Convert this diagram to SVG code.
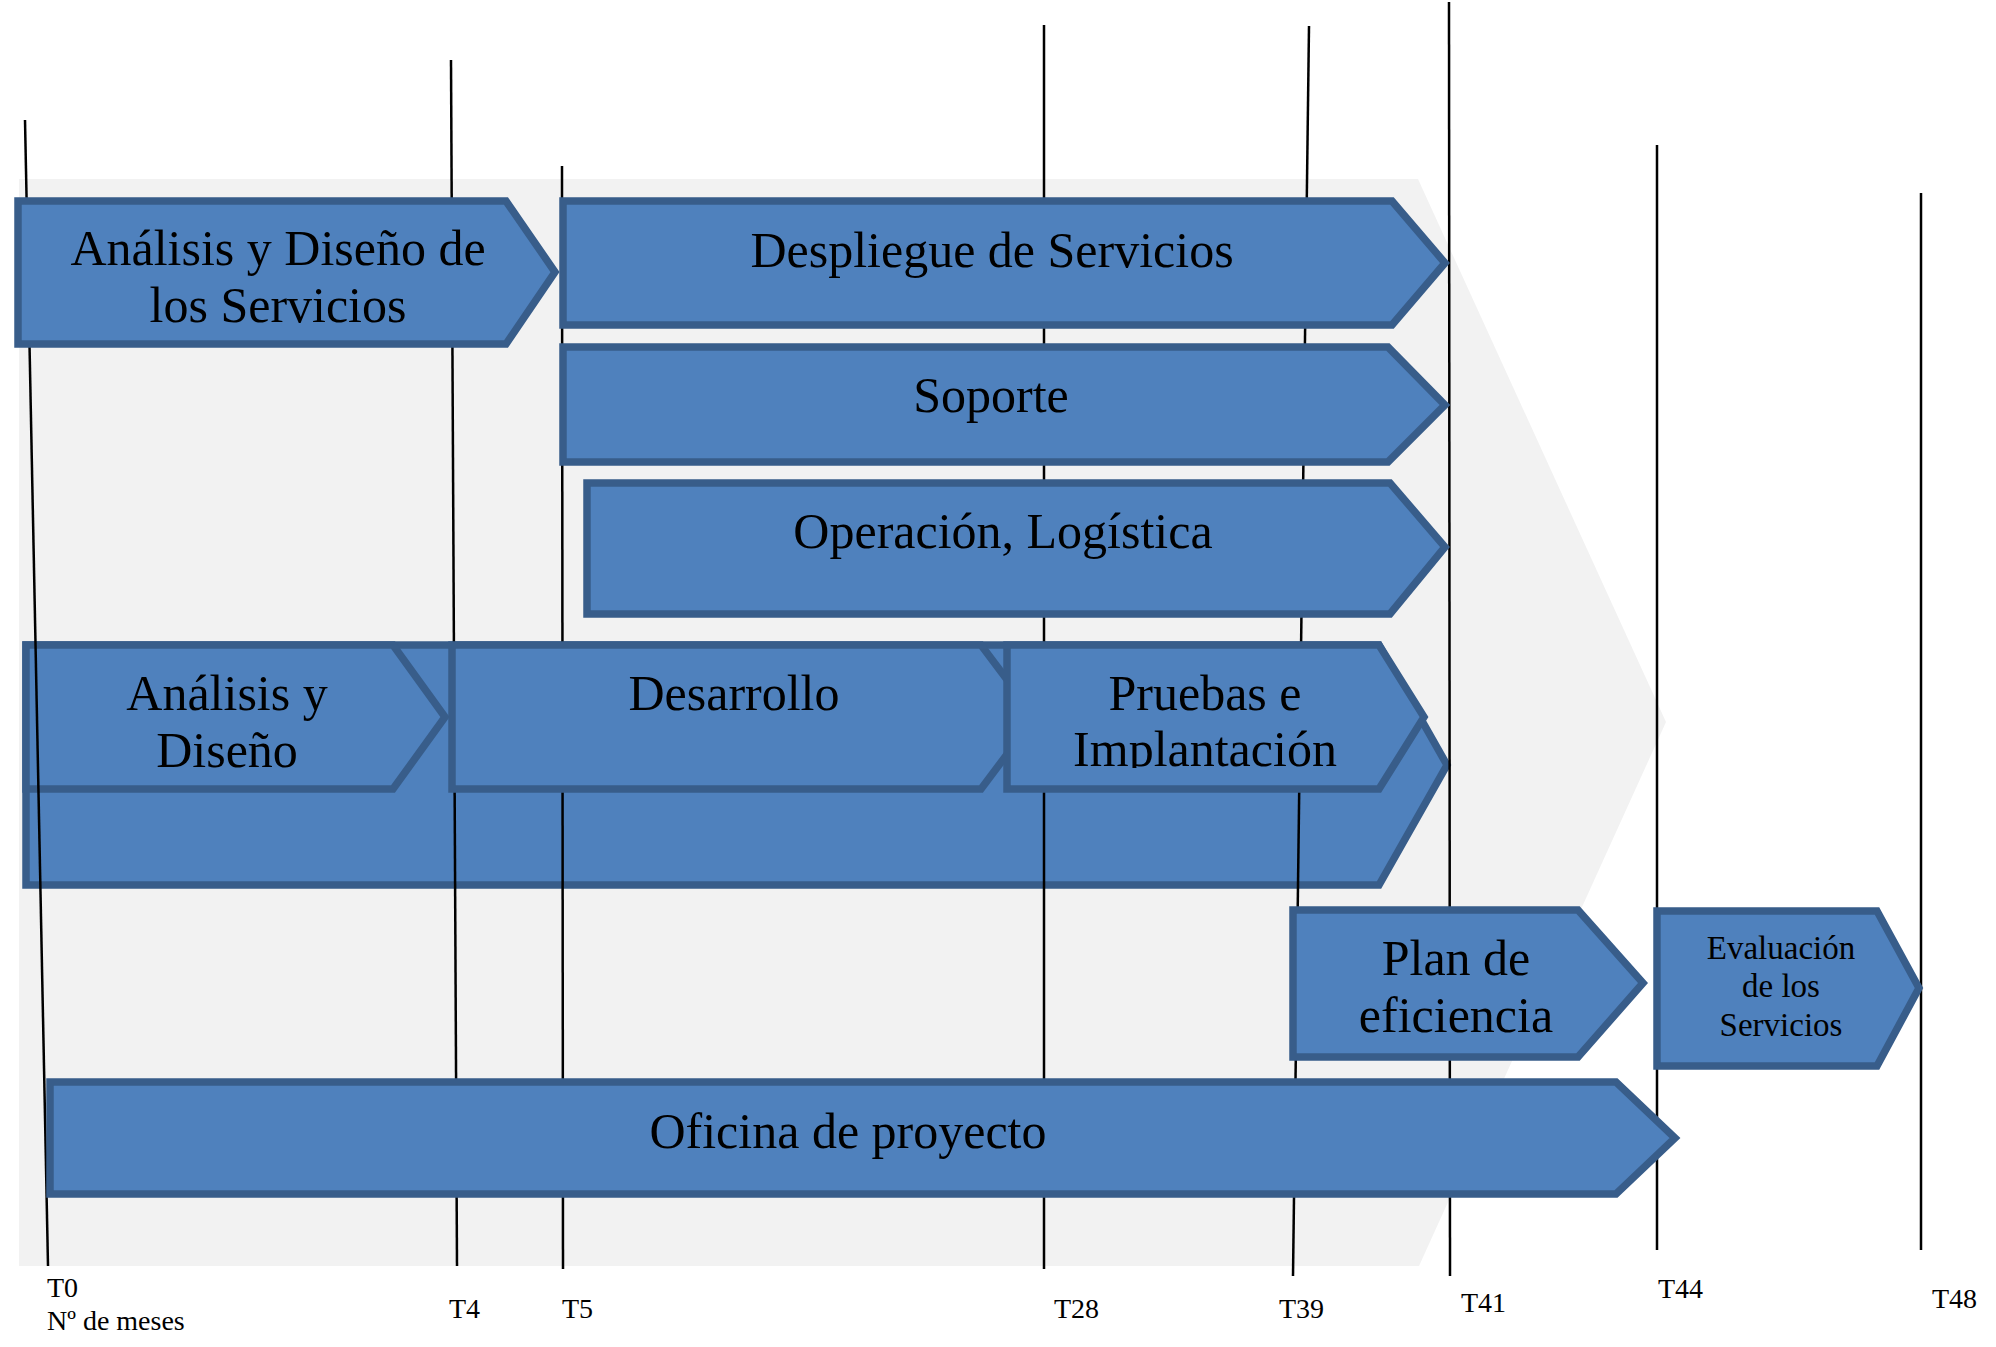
<svg xmlns="http://www.w3.org/2000/svg" width="1996" height="1347" viewBox="0 0 1996 1347">
<style>
.arrow{fill:#4F81BD;stroke:#385D8A;stroke-width:7.5;stroke-linejoin:miter}
.lbl{font-family:"Liberation Serif","Times New Roman",serif;font-size:50px;fill:#000;text-anchor:middle}
.sm{font-size:33px}
.ax{font-family:"Liberation Serif","Times New Roman",serif;font-size:28px;fill:#000}
.tl{stroke:#000;stroke-width:2.5;fill:none}
</style>
<defs>
<clipPath id="clipImpl"><rect x="1000" y="650" width="420" height="118"/></clipPath>
</defs>
<rect width="1996" height="1347" fill="#fff"/>
<polygon id="background" points="19,179 1418,179 1666,722 1419,1266 19,1266" fill="#F2F2F2"/>

<g id="fase-desarrollo">
<polygon class="arrow" points="26,645 1379,645 1447,765 1379,885 26,885"/>
</g>
<g id="analisis-diseno">
<polygon class="arrow" points="26,645 393,645 445,717 393,789 26,789"/>
<text class="lbl" x="227" y="710">Análisis y</text>
<text class="lbl" x="227" y="767">Diseño</text>
</g>

<g id="timeline">
<line class="tl" x1="25" y1="120" x2="48" y2="1266"/>
<line class="tl" x1="451" y1="60" x2="457" y2="1266"/>
<line class="tl" x1="562" y1="166" x2="563" y2="1269"/>
<line class="tl" x1="1044" y1="25" x2="1044" y2="1269"/>
<line class="tl" x1="1309" y1="26" x2="1293" y2="1276"/>
<line class="tl" x1="1449" y1="2" x2="1450" y2="1276"/>
<line class="tl" x1="1657" y1="145" x2="1657" y2="1250" stroke-width="3"/>
<line class="tl" x1="1921" y1="193" x2="1921" y2="1250" stroke-width="3"/>
</g>

<g id="analisis-diseno-servicios">
<polygon class="arrow" points="18,201 506,201 555,272 506,344 18,344"/>
<text class="lbl" x="278" y="265">Análisis y Diseño de</text>
<text class="lbl" x="278" y="322">los Servicios</text>
</g>
<g id="despliegue">
<polygon class="arrow" points="563,201 1392,201 1445,263 1392,325 563,325"/>
<text class="lbl" x="992" y="267">Despliegue de Servicios</text>
</g>
<g id="soporte">
<polygon class="arrow" points="563,347 1388,347 1445,405 1388,462 563,462"/>
<text class="lbl" x="991" y="412">Soporte</text>
</g>
<g id="operacion">
<polygon class="arrow" points="587,483 1390,483 1445,547 1390,614 587,614"/>
<text class="lbl" x="1003" y="548">Operación, Logística</text>
</g>
<g id="desarrollo">
<polygon class="arrow" points="452,645 981,645 1035,717 981,789 452,789"/>
<text class="lbl" x="734" y="710">Desarrollo</text>
</g>
<g id="pruebas">
<polygon class="arrow" points="1007,645 1379,645 1424,717 1379,789 1007,789"/>
<text class="lbl" x="1205" y="710">Pruebas e</text>
<text class="lbl" x="1205" y="766" clip-path="url(#clipImpl)">Implantación</text>
</g>
<g id="plan-eficiencia">
<polygon class="arrow" points="1293,910 1578,910 1643,983 1578,1057 1293,1057"/>
<text class="lbl" x="1456" y="975">Plan de</text>
<text class="lbl" x="1456" y="1032">eficiencia</text>
</g>
<g id="evaluacion">
<polygon class="arrow" points="1657,911 1877,911 1919,988 1877,1066 1657,1066"/>
<text class="lbl sm" x="1781" y="959">Evaluación</text>
<text class="lbl sm" x="1781" y="997">de los</text>
<text class="lbl sm" x="1781" y="1036">Servicios</text>
</g>
<g id="oficina">
<polygon class="arrow" points="50,1082 1616,1082 1675,1138 1616,1194 50,1194"/>
<text class="lbl" x="848" y="1148">Oficina de proyecto</text>
</g>

<g id="axis-labels">
<text class="ax" x="47" y="1297">T0</text>
<text class="ax" x="47" y="1330">Nº de meses</text>
<text class="ax" x="449" y="1318">T4</text>
<text class="ax" x="562" y="1318">T5</text>
<text class="ax" x="1054" y="1318">T28</text>
<text class="ax" x="1279" y="1318">T39</text>
<text class="ax" x="1461" y="1312">T41</text>
<text class="ax" x="1658" y="1298">T44</text>
<text class="ax" x="1932" y="1308">T48</text>
</g>
</svg>
